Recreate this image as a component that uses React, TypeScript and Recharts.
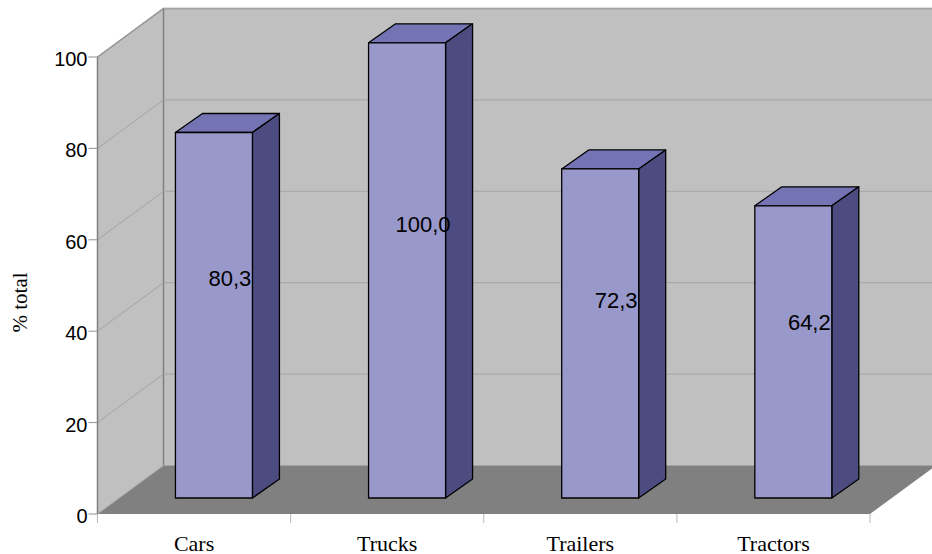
import React from "react";
import {
  BarChart,
  Bar,
  XAxis,
  YAxis,
  CartesianGrid,
  ReferenceArea,
  LabelList,
} from "recharts";

const categories = ["Cars", "Trucks", "Trailers", "Tractors"];
const shares = [80.3, 100.0, 72.3, 64.2];
const yTicks = [0, 20, 40, 60, 80, 100];

const data = categories.map((name, i) => ({ name, share: shares[i] }));

// 3D box look (Excel style): depth of the walls and where the bars sit in it
const DEPTH_X = 66;
const DEPTH_Y = 48.5;
const BAR_SHIFT_X = 20;
const BAR_SHIFT_Y = 16;
const BAR_DX = 27;
const BAR_DY = 19;
const BAR_PLANE_SCALE = 0.996;

const SANS = '"Liberation Sans", Arial, sans-serif';
const SERIF = '"Liberation Serif", "Times New Roman", serif';

const fmt = (v: number) => v.toFixed(1).replace(".", ",");

const Walls = (props: any) => {
  const { x, y, width, height } = props;
  const bottom = y + height;
  const right = x + width + DEPTH_X + 20;
  const bx = x + DEPTH_X;
  const top = y - DEPTH_Y;
  const floorY = bottom - DEPTH_Y;
  return (
    <g>
      <rect x={bx} y={top} width={right - bx} height={floorY - top} fill="#c0c0c0" />
      <polygon
        points={`${x},${y} ${bx},${top} ${bx},${floorY} ${x},${bottom}`}
        fill="#c0c0c0"
      />
      <polygon
        points={`${x},${bottom} ${bx},${floorY} ${x + width + DEPTH_X},${floorY} ${x + width},${bottom}`}
        fill="#808080"
      />
      <polyline
        points={`${x},${y} ${bx},${top} ${right},${top}`}
        fill="none"
        stroke="#808080"
        strokeWidth={1.5}
      />
      <line x1={bx} y1={top} x2={bx} y2={floorY} stroke="#808080" strokeWidth={1.5} />
    </g>
  );
};

const gridLine = (props: any) => {
  const { x1, y1, x2, index } = props;
  return (
    <path
      key={`g-${index}-${y1}`}
      d={`M${x1},${y1} L${x1 + DEPTH_X},${y1 - DEPTH_Y} L${x2 + DEPTH_X + 20},${y1 - DEPTH_Y}`}
      fill="none"
      stroke="#a4a4a4"
      strokeWidth={1}
    />
  );
};

const Bar3D = (props: any) => {
  const { x, y, width, height } = props;
  if (height == null || width == null) return null;
  const h = height * BAR_PLANE_SCALE;
  const fx = x + BAR_SHIFT_X;
  const bottom = y + height - BAR_SHIFT_Y;
  const top = bottom - h;
  const r = fx + width;
  return (
    <g stroke="#000" strokeWidth={1.3} strokeLinejoin="round">
      <polygon
        points={`${fx},${top} ${fx + BAR_DX},${top - BAR_DY} ${r + BAR_DX},${top - BAR_DY} ${r},${top}`}
        fill="#7474b4"
      />
      <polygon
        points={`${r},${top} ${r + BAR_DX},${top - BAR_DY} ${r + BAR_DX},${bottom - BAR_DY} ${r},${bottom}`}
        fill="#4c4c80"
      />
      <rect x={fx} y={top} width={width} height={h} fill="#9898cb" />
    </g>
  );
};

const ValueLabel = (props: any) => {
  const vb = props.viewBox || {};
  const x = props.x ?? vb.x;
  const y = props.y ?? vb.y;
  const width = props.width ?? vb.width;
  const height = props.height ?? vb.height;
  const h = height * BAR_PLANE_SCALE;
  const bottom = y + height - BAR_SHIFT_Y;
  const top = bottom - h;
  return (
    <text
      x={x + BAR_SHIFT_X + width / 2 + 16}
      y={top + h * 0.4}
      textAnchor="middle"
      dominantBaseline="central"
      fontFamily={SANS}
      fontSize={22}
      fill="#000"
    >
      {fmt(Number(props.value))}
    </text>
  );
};

const YTick = (props: any) => {
  const { x, y, payload } = props;
  return (
    <text x={x} y={y + 9} textAnchor="end" fontFamily={SANS} fontSize={20} fill="#000">
      {payload.value}
    </text>
  );
};

const XTick = (props: any) => {
  const { x, y, payload, index, visibleTicksCount, width } = props;
  const count = visibleTicksCount ?? categories.length;
  const half = (width ?? 773) / count / 2;
  return (
    <g>
      <line x1={x - half} y1={y} x2={x - half} y2={y + 9} stroke="#b8b8b8" />
      {index === count - 1 && (
        <line x1={x + half} y1={y} x2={x + half} y2={y + 9} stroke="#b8b8b8" />
      )}
      <text x={x} y={y + 37} textAnchor="middle" fontFamily={SERIF} fontSize={22} fill="#000">
        {payload.value}
      </text>
    </g>
  );
};

const YTitle = (props: any) => {
  const vb = props.viewBox || { x: 0, y: 57, width: 97, height: 457 };
  const tx = vb.x + 26;
  const ty = vb.y + vb.height / 2 + 17;
  return (
    <text
      x={tx}
      y={ty}
      transform={`rotate(-90, ${tx}, ${ty})`}
      textAnchor="middle"
      fontFamily={SERIF}
      fontSize={21}
      fill="#000"
    >
      % total
    </text>
  );
};

export default function App() {
  return (
    <div style={{ position: "absolute", left: 0, top: 0, background: "#fff" }}>
      <BarChart
        width={932}
        height={554}
        data={data}
        margin={{ top: 57, right: 62, bottom: 0, left: 0.5 }}
        barCategoryGap="30%"
      >
        <ReferenceArea y1={0} y2={100} shape={<Walls />} zIndex={-200} ifOverflow="visible" />
        <CartesianGrid horizontal={gridLine} vertical={false} />
        <XAxis
          dataKey="name"
          axisLine={false}
          tickLine={false}
          tickSize={0}
          tickMargin={0}
          height={40}
          interval={0}
          tick={<XTick />}
        />
        <YAxis
          domain={[0, 100]}
          ticks={yTicks}
          width={97}
          tickSize={9}
          tickMargin={1}
          axisLine={{ stroke: "#808080", strokeWidth: 1.5 }}
          tickLine={{ stroke: "#909090" }}
          tick={<YTick />}
          label={<YTitle />}
        />
        <Bar dataKey="share" shape={<Bar3D />} isAnimationActive={false}>
          <LabelList dataKey="share" content={<ValueLabel />} />
        </Bar>
      </BarChart>
    </div>
  );
}
